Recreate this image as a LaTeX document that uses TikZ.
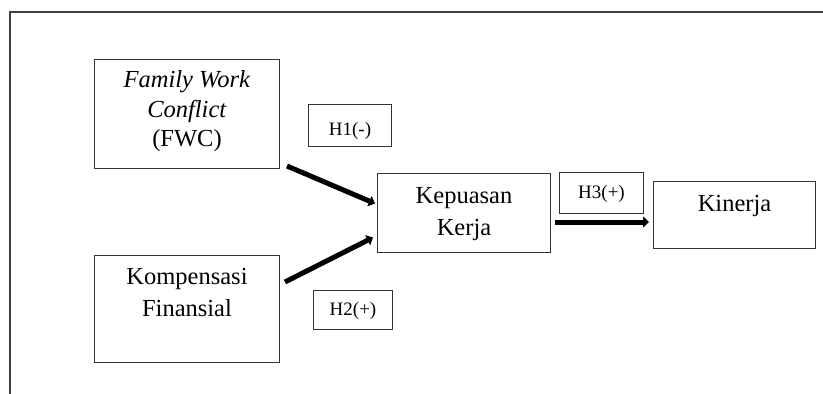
\documentclass[tikz,border=0pt]{standalone}
\usepackage{fontspec}
\setmainfont{Liberation Serif}
\usetikzlibrary{arrows.meta}
\begin{document}
\begin{tikzpicture}[x=1pt,y=-1pt,
    box/.style={draw=black!80,line width=1pt,inner sep=0pt,anchor=north west,
      font=\fontsize{24.5}{32}\selectfont},
    hyp/.style={draw=black!80,line width=1pt,inner sep=0pt,anchor=north west,
      font=\fontsize{19}{23}\selectfont},
    link/.style={line width=5pt,-{Triangle[length=6pt,width=11pt]}}]
  \useasboundingbox (0,0) rectangle (823,394);
  \draw[black!75,line width=1.2pt] (823,12) -- (10,12) -- (10,394);
  \node[box,minimum width=185pt,text height=28pt,text depth=81pt,
        font=\fontsize{24.5}{29.5}\selectfont] (fwc) at (94,59)
    {\begin{tabular}[t]{@{}c@{}}\textit{Family Work}\\\textit{Conflict}\\(FWC)\end{tabular}};
  \node[box,minimum width=185pt,text height=29pt,text depth=78pt] (komp) at (94,255)
    {\begin{tabular}[t]{@{}c@{}}Kompensasi\\Finansial\end{tabular}};
  \node[box,minimum width=173pt,text height=30pt,text depth=49pt] (kep) at (377,173)
    {\begin{tabular}[t]{@{}c@{}}Kepuasan\\Kerja\end{tabular}};
  \node[box,minimum width=162pt,text height=30pt,text depth=37pt] (kin) at (653,181)
    {Kinerja};
  \node[hyp,minimum width=83pt,text height=31pt,text depth=11pt] (hone) at (308,104)
    {H1(-)\hspace{15pt}};
  \node[hyp,minimum width=79pt,text height=25pt,text depth=14pt] (htwo) at (313,290)
    {H2(+)};
  \node[hyp,minimum width=84pt,text height=26pt,text depth=15pt] (hthree) at (559,172)
    {H3(+)};
  \draw[link] ([shift={(7,-3)}]fwc.south east) -- ([shift={(-2,-9.5)}]kep.west);
  \draw[link] ([shift={(5,27)}]komp.north east) -- ([shift={(-4,24.5)}]kep.west);
  \draw[link] ([shift={(4,9)}]kep.east) -- ([shift={(-4,7)}]kin.west);
\end{tikzpicture}
\end{document}
